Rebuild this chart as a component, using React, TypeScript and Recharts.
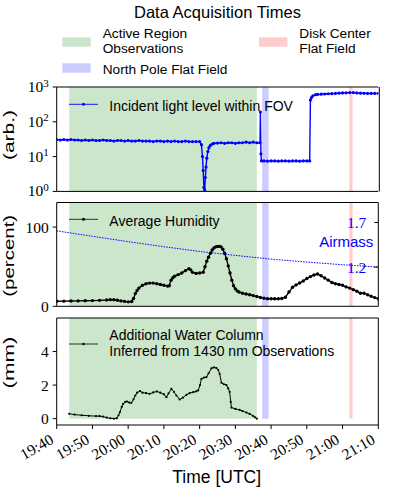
import React from "react";
import { ComposedChart, Line, XAxis, YAxis, ReferenceArea } from "recharts";

const W = 395;
const H = 487;

// time axis, minutes after 19:40 UTC
const timeTicks = [0, 10, 20, 30, 40, 50, 60, 70, 80, 90];
const timeLabels = ["19:40", "19:50", "20:00", "20:10", "20:20", "20:30", "20:40", "20:50", "21:00", "21:10"];

// acquisition windows (minutes after 19:40)
const activeRegionSpan = [3.5, 56];
const northPoleSpan = [57.5, 59.3];
const diskCenterSpan = [81.9, 82.8];

// incident light level within FOV (arb.)
const lightTimes = [
  0, 1, 2, 3, 4, 5, 6, 7, 8, 9, 10, 11, 12, 13, 14, 15, 16, 17, 18, 19, 20, 21, 22, 23, 24, 25, 26, 27, 28, 29, 30,
  31, 32, 33, 34, 35, 36, 37, 38, 39, 40,
  40.5, 40.8, 41, 41.2, 41.4, 41.6, 41.8, 42, 42.3, 42.6, 43, 43.5, 44,
  45, 46, 47, 48, 49, 50, 51, 52, 53, 54, 55, 56, 56.9,
  57, 57.15, 57.3, 58, 59, 60, 61, 62, 63, 64, 65, 66, 67, 68, 69, 70, 70.8,
  71, 71.3, 71.7, 72.5, 73, 74, 75, 76, 77, 78, 79, 80, 81, 82, 83, 84, 85, 86, 87, 88, 89, 90,
];
const lightValues = [
  31, 30, 31, 30, 31, 30, 30, 29, 30, 29, 30, 29, 29, 30, 29, 29, 28, 29, 29, 28, 29, 28, 28, 29, 28, 28, 28, 27, 28,
  28, 27, 28, 27, 28, 27, 27, 28, 27, 27, 27, 27,
  22, 10, 4, 1.3, 1.1, 2.5, 5, 9, 14, 18, 21, 23, 24,
  24.5, 25, 24, 25, 25, 24, 25, 25, 26, 25, 26, 25, 25,
  190, 12, 7.5, 7.5, 7.4, 7.5, 7.5, 7.4, 7.5, 7.5, 7.4, 7.5, 7.5, 7.4, 7.5, 7.5, 7.5,
  420, 500, 560, 600, 610, 620, 630, 640, 645, 655, 665, 675, 680, 690, 690, 675, 665, 660, 655, 655, 655, 655,
];
const lightTicks = [1, 10, 100, 1000];
const lightMinorTicks = [2, 3, 4, 5, 6, 7, 8, 9, 20, 30, 40, 50, 60, 70, 80, 90, 200, 300, 400, 500, 600, 700, 800, 900];

// average humidity (percent)
const humidityTimes = [
  0, 2, 4, 6, 8, 10, 12, 14, 15, 16, 17, 18, 19, 20, 21, 21.5, 22, 22.5, 23, 24, 25, 26, 27, 28, 29, 30, 31, 31.5, 32,
  32.5, 33, 34, 35, 36, 37, 37.5, 38, 39, 40, 41, 41.5, 42, 42.5, 43, 43.5, 44, 44.5, 45, 45.5, 46, 46.5, 47, 47.5, 48,
  48.5, 49, 49.5, 50, 50.5, 51, 52, 53, 54, 55, 56, 57, 58, 59, 60, 61, 62, 63, 64, 65, 66, 67, 68, 69, 70, 71, 72, 73,
  74, 75, 76, 77, 78, 79, 80, 81, 82, 83, 84, 85, 86, 87, 88, 89, 90,
];
const humidityValues = [
  6.3, 6.5, 6.6, 6.8, 7, 7.2, 7.5, 8, 8.4, 8.2, 7.6, 6.8, 6.2, 5.6, 6, 10, 16, 20, 23, 26.5, 28.5, 29.3, 29.3, 28.5,
  27.5, 26.5, 25.5, 26, 33, 36, 38, 40, 42, 45, 47.3, 46, 43, 41.5, 42, 43, 50, 57, 62, 67, 71, 73.5, 75, 75.6, 75.6,
  75, 72, 67, 60, 51, 42, 33, 26, 22, 19.5, 18, 16.5, 15.5, 14.6, 13.5, 12.3, 11.2, 10.2, 9.6, 9.5, 9.5, 9.6, 9.8,
  11.5, 18, 24, 27, 29.4, 32, 35, 37.5, 39.5, 40.7, 38.5, 35.7, 33, 30, 28.5, 27.5, 26.5, 24.5, 23, 21, 19, 16.5, 16.5,
  14.5, 12.6, 11, 9.6,
];
const humidityTicks = [0, 100];

// airmass (right axis of the humidity panel)
const airmassTimes = [0, 10, 20, 30, 40, 50, 60, 70, 80, 90];
const airmassValues = [1.606, 1.545, 1.485, 1.428, 1.375, 1.331, 1.289, 1.256, 1.226, 1.199];
const airmassTicks = [1.2, 1.7];

// additional water column inferred from 1430 nm (mm)
const waterTimes = [
  3.5, 5, 7, 9, 11, 12, 13, 14, 15, 16, 16.8, 17.3, 17.7, 18.2, 18.6, 19.2, 19.7, 20.3, 20.9, 21.5, 22, 22.5, 23.3, 24,
  25, 26, 27, 28, 29, 30, 30.7, 31.3, 32.1, 32.8, 33.5, 34.4, 35.3, 36.3, 37.2, 38.2, 39, 39.6, 40.1, 40.5, 41.2, 41.9,
  42.5, 43.3, 44, 44.7, 45.2, 45.6, 46.1, 46.8, 47.5, 48, 48.4, 48.7, 48.9, 50, 51.2, 52, 53.1, 54, 54.9, 55.5, 56,
];
const waterValues = [
  0.29, 0.24, 0.2, 0.17, 0.15, 0.15, 0.12, 0.06, 0.02, 0, 0.02, 0.2, 0.39, 0.7, 0.88, 1, 1.02, 0.96, 0.94, 1.15, 1.38,
  1.55, 1.64, 1.55, 1.52, 1.48, 1.56, 1.62, 1.55, 1.45, 1.28, 1.5, 1.78, 1.6, 1.38, 1.14, 1.25, 1.42, 1.52, 1.58, 1.62,
  1.68, 2, 2.37, 2.45, 2.47, 2.7, 3, 3.05, 3.02, 2.9, 2.67, 2.14, 2.05, 2, 1.8, 1.6, 1, 0.66, 0.58, 0.52, 0.45, 0.36,
  0.28, 0.17, 0.08, 0,
];
const waterTicks = [0, 2, 4];

const SANS = "'Liberation Sans', Arial, Helvetica, sans-serif";
const SERIF = "'Liberation Serif', 'Times New Roman', serif";
const BLUE = "#0000ff";
const BLACK = "#000000";
const GREEN_SPAN = "#cce6cc";
const BLUE_SPAN = "#ccccff";
const RED_SPAN = "#ffcccc";

const toPoints = (ts: number[], vs: number[]) => ts.map((t, i) => ({ t, v: vs[i] }));
const lightData = toPoints(lightTimes, lightValues);
const humidityData = toPoints(humidityTimes, humidityValues);
const airmassData = toPoints(airmassTimes, airmassValues);
const waterData = toPoints(waterTimes, waterValues);

const frame = { stroke: BLACK, strokeWidth: 1 };

type TickProps = { x?: number; y?: number; payload?: { value: number } };

function LogTick({ x = 0, y = 0, payload }: TickProps) {
  const exp = Math.round(Math.log10(payload?.value ?? 1));
  return (
    <text x={x} y={y + 5} textAnchor="end" fontFamily={SERIF} fontSize={15.5} fill={BLACK}>
      10
      <tspan dy={-5.5} fontSize={11}>
        {exp}
      </tspan>
    </text>
  );
}

function NumTick({ x = 0, y = 0, payload, color = BLACK }: TickProps & { color?: string }) {
  return (
    <text x={x} y={y + 5.5} textAnchor="end" fontFamily={SERIF} fontSize={15.5} fill={color}>
      {payload?.value}
    </text>
  );
}

function TimeTick({ x = 0, y = 0, payload }: TickProps) {
  const label = timeLabels[timeTicks.indexOf(payload?.value ?? 0)];
  const ax = x - 2;
  const ay = y + 11.5;
  return (
    <text
      x={ax}
      y={ay}
      textAnchor="end"
      transform={`rotate(-30 ${ax} ${ay})`}
      fontFamily={SERIF}
      fontSize={15.5}
      fill={BLACK}
    >
      {label}
    </text>
  );
}

function Spans({ y1, y2 }: { y1: number; y2: number }) {
  return (
    <>
      <ReferenceArea x1={activeRegionSpan[0]} x2={activeRegionSpan[1]} y1={y1} y2={y2} fill={GREEN_SPAN} fillOpacity={1} stroke="none" />
      <ReferenceArea x1={northPoleSpan[0]} x2={northPoleSpan[1]} y1={y1} y2={y2} fill={BLUE_SPAN} fillOpacity={1} stroke="none" />
      <ReferenceArea x1={diskCenterSpan[0]} x2={diskCenterSpan[1]} y1={y1} y2={y2} fill={RED_SPAN} fillOpacity={1} stroke="none" />
    </>
  );
}

function TimeAxes({ labels }: { labels: boolean }) {
  return (
    <>
      <XAxis
        type="number"
        dataKey="t"
        domain={[0, 90]}
        allowDataOverflow
        ticks={timeTicks}
        interval={0}
        height={1}
        tickSize={4}
        tick={labels ? <TimeTick /> : false}
        axisLine={frame}
        tickLine={frame}
      />
      <XAxis
        xAxisId="top"
        orientation="top"
        type="number"
        domain={[0, 90]}
        allowDataOverflow
        ticks={timeTicks}
        interval={0}
        height={1}
        tick={false}
        tickLine={false}
        axisLine={frame}
      />
    </>
  );
}

export default function App() {
  return (
    <div style={{ position: "relative", width: W, height: H, background: "#fff", overflow: "hidden" }}>
      <style>{"body{margin:0}"}</style>

      {/* panel 1: incident light */}
      <div style={{ position: "absolute", left: 0, top: 70 }}>
        <ComposedChart width={W} height={130} margin={{ top: 16, right: 14.7, bottom: 7.6, left: 54.7 }}>
          <TimeAxes labels={false} />
          <YAxis
            scale="log"
            domain={[1, 1000]}
            allowDataOverflow
            ticks={lightTicks}
            interval={0}
            width={1}
            tickSize={4}
            tickMargin={4}
            tick={<LogTick />}
            axisLine={frame}
            tickLine={frame}
          />
          <YAxis yAxisId="minL" scale="log" domain={[1, 1000]} allowDataOverflow ticks={lightMinorTicks} interval={0} width={1} tickSize={2} tick={false} axisLine={false} tickLine={frame} />
          <YAxis yAxisId="r" orientation="right" scale="log" domain={[1, 1000]} allowDataOverflow ticks={lightTicks} interval={0} width={1} tickSize={4} tick={false} axisLine={frame} tickLine={frame} />
          <YAxis yAxisId="minR" orientation="right" scale="log" domain={[1, 1000]} allowDataOverflow ticks={lightMinorTicks} interval={0} width={1} tickSize={2} tick={false} axisLine={false} tickLine={frame} />
          <Spans y1={1} y2={1000} />
          <Line
            data={lightData}
            dataKey="v"
            stroke={BLUE}
            strokeWidth={1.4}
            dot={{ r: 1.6, fill: BLUE, stroke: "none" }}
            activeDot={false}
            isAnimationActive={false}
          />
        </ComposedChart>
      </div>

      {/* panel 2: humidity + airmass */}
      <div style={{ position: "absolute", left: 0, top: 196 }}>
        <ComposedChart width={W} height={120} margin={{ top: 5.5, right: 16.7, bottom: 8.7, left: 55.7 }}>
          <TimeAxes labels={false} />
          <YAxis
            domain={[0, 131]}
            allowDataOverflow
            ticks={humidityTicks}
            interval={0}
            width={1}
            tickSize={4}
            tickMargin={4}
            tick={<NumTick />}
            axisLine={frame}
            tickLine={frame}
          />
          <YAxis
            yAxisId="air"
            orientation="right"
            mirror
            domain={[0.76, 1.924]}
            allowDataOverflow
            ticks={airmassTicks}
            interval={0}
            tickSize={4}
            tickMargin={8}
            tick={<NumTick color={BLUE} />}
            axisLine={frame}
            tickLine={frame}
          />
          <Spans y1={0} y2={131} />
          <Line
            yAxisId="air"
            data={airmassData}
            dataKey="v"
            stroke={BLUE}
            strokeWidth={1}
            strokeDasharray="1.5 1.2"
            dot={false}
            activeDot={false}
            isAnimationActive={false}
          />
          <Line
            data={humidityData}
            dataKey="v"
            stroke={BLACK}
            strokeWidth={1.4}
            dot={{ r: 1.7, fill: BLACK, stroke: "none" }}
            activeDot={false}
            isAnimationActive={false}
          />
        </ComposedChart>
      </div>

      {/* panel 3: water column */}
      <div style={{ position: "absolute", left: 0, top: 310 }}>
        <ComposedChart width={W} height={177} margin={{ top: 7, right: 15.7, bottom: 61, left: 55.7 }}>
          <TimeAxes labels />
          <YAxis
            domain={[-0.38, 6]}
            allowDataOverflow
            ticks={waterTicks}
            interval={0}
            width={1}
            tickSize={4}
            tickMargin={4}
            tick={<NumTick />}
            axisLine={frame}
            tickLine={frame}
          />
          <YAxis yAxisId="r" orientation="right" domain={[-0.38, 6]} allowDataOverflow ticks={waterTicks} interval={0} width={1} tickSize={4} tick={false} axisLine={frame} tickLine={frame} />
          <Spans y1={0} y2={6} />
          <Line
            data={waterData}
            dataKey="v"
            stroke={BLACK}
            strokeWidth={1}
            dot={{ r: 1.1, fill: BLACK, stroke: "none" }}
            activeDot={false}
            isAnimationActive={false}
          />
        </ComposedChart>
      </div>

      {/* titles, legends and axis labels */}
      <svg width={W} height={H} style={{ position: "absolute", left: 0, top: 0, pointerEvents: "none" }}>
        <g fontFamily={SANS} fill={BLACK}>
          <text x={217.5} y={18.3} textAnchor="middle" fontSize={16.5}>
            Data Acquisition Times
          </text>

          <rect x={62.3} y={37.3} width={28.4} height={9.4} fill={GREEN_SPAN} />
          <text x={102.7} y={38.3} fontSize={13.7}>Active Region</text>
          <text x={102.7} y={53.3} fontSize={13.7}>Observations</text>
          <rect x={62.3} y={63.3} width={28.4} height={9.4} fill={BLUE_SPAN} />
          <text x={102.7} y={74} fontSize={13.7}>North Pole Flat Field</text>
          <rect x={259} y={37.3} width={28.4} height={9.4} fill={RED_SPAN} />
          <text x={299.3} y={38.3} fontSize={13.7}>Disk Center</text>
          <text x={299.3} y={53.3} fontSize={13.7}>Flat Field</text>

          <line x1={69} x2={98} y1={104.3} y2={104.3} stroke={BLUE} strokeWidth={0.9} />
          <circle cx={83.5} cy={104.3} r={1.5} fill={BLUE} />
          <text x={109.3} y={110.7} fontSize={14}>Incident light level within FOV</text>

          <line x1={69} x2={98} y1={219.3} y2={219.3} stroke={BLACK} strokeWidth={0.8} />
          <circle cx={83.5} cy={219.3} r={1.5} fill={BLACK} />
          <text x={109.3} y={225.7} fontSize={14}>Average Humidity</text>
          <text x={373.3} y={247.3} textAnchor="end" fontSize={15} fill={BLUE}>Airmass</text>

          <line x1={69} x2={98} y1={344} y2={344} stroke={BLACK} strokeWidth={0.8} />
          <circle cx={83.5} cy={344} r={1.2} fill={BLACK} />
          <text x={109.3} y={340} fontSize={14}>Additional Water Column</text>
          <text x={109.3} y={355.7} fontSize={14}>Inferred from 1430 nm Observations</text>

          <text transform="translate(13.5 135) rotate(-90)" textAnchor="middle" fontSize={14.5} textLength={50} lengthAdjust="spacingAndGlyphs">(arb.)</text>
          <text transform="translate(13.5 255.8) rotate(-90)" textAnchor="middle" fontSize={14.5} textLength={82} lengthAdjust="spacingAndGlyphs">(percent)</text>
          <text transform="translate(13.5 362.5) rotate(-90)" textAnchor="middle" fontSize={14.5} textLength={52} lengthAdjust="spacingAndGlyphs">(mm)</text>

          <text x={216.7} y={483} textAnchor="middle" fontSize={17.5}>Time [UTC]</text>
        </g>
      </svg>
    </div>
  );
}
